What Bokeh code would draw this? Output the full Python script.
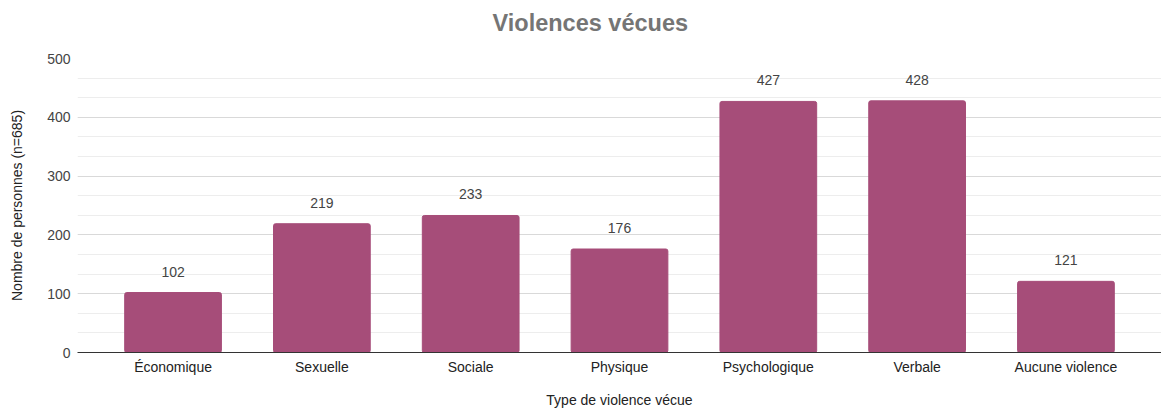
from bokeh.plotting import figure
from bokeh.models import ColumnDataSource, FactorRange, Range1d, FixedTicker
from bokeh.core.properties import value
from bokeh.embed import file_html
from bokeh.resources import INLINE

# Data
categories = ["Économique", "Sexuelle", "Sociale", "Physique",
              "Psychologique", "Verbale", "Aucune violence"]
counts = [102, 219, 233, 176, 427, 428, 121]
y_ticks = [0, 100, 200, 300, 400, 500]

FONT = "Liberation Sans"
BAR_COLOR = "#a64d79"

source = ColumnDataSource(dict(
    cat=categories,
    n=counts,
    lbl=[str(v) for v in counts],
))

p = figure(
    width=1161, height=410,
    x_range=FactorRange(*categories, range_padding=0.0406),
    y_range=Range1d(0, 500),
    output_backend="svg", toolbar_location=None,
    min_border_left=77, min_border_right=0,
    min_border_top=58, min_border_bottom=58,
)
p.outline_line_color = None
p.background_fill_color = "white"
p.border_fill_color = "white"

# Title
p.title.text = "Violences vécues"
p.title.align = "left"
p.title.offset = 415
p.title.padding = dict(left=0, right=0, top=0, bottom=18)
p.title.text_font = FONT
p.title.text_font_size = "23.5px"
p.title.text_font_style = "bold"
p.title.text_color = "#757575"

# Bars and value labels
p.vbar(x="cat", top="n", width=0.65, source=source,
       fill_color=BAR_COLOR, line_color=BAR_COLOR, border_radius=2)
p.text(x="cat", y="n", text="lbl", source=source,
       text_align="center", text_baseline="middle", y_offset=-21,
       text_font=value(FONT), text_font_size="14px", text_color="#444444")

# Y axis
minor = [k * 100 / 3 for k in range(16)]
p.yaxis.ticker = FixedTicker(ticks=y_ticks, minor_ticks=minor)
p.yaxis.axis_line_color = None
p.yaxis.major_tick_line_color = None
p.yaxis.minor_tick_line_color = None
p.yaxis.major_label_standoff = 1
p.yaxis.major_label_text_font = FONT
p.yaxis.major_label_text_font_size = "14px"
p.yaxis.major_label_text_color = "#444444"
p.yaxis.axis_label = "Nombre de personnes (n=685)"
p.yaxis.axis_label_text_font = FONT
p.yaxis.axis_label_text_font_size = "14px"
p.yaxis.axis_label_text_font_style = "normal"
p.yaxis.axis_label_text_color = "#222222"
p.yaxis.axis_label_standoff = 19

p.ygrid.grid_line_color = "#d9d9d9"
p.ygrid.minor_grid_line_color = "#ededed"
p.xgrid.grid_line_color = None

# X axis
p.xaxis.axis_line_color = "#333333"
p.xaxis.major_tick_line_color = None
p.xaxis.minor_tick_line_color = None
p.xaxis.major_label_standoff = 0
p.xaxis.major_label_text_font = FONT
p.xaxis.major_label_text_font_size = "14px"
p.xaxis.major_label_text_color = "#222222"
p.xaxis.axis_label = "Type de violence vécue"
p.xaxis.axis_label_text_font = FONT
p.xaxis.axis_label_text_font_size = "14px"
p.xaxis.axis_label_text_font_style = "normal"
p.xaxis.axis_label_text_color = "#222222"
p.xaxis.axis_label_standoff = 14

open("out.html", "w").write(file_html(p, INLINE))
